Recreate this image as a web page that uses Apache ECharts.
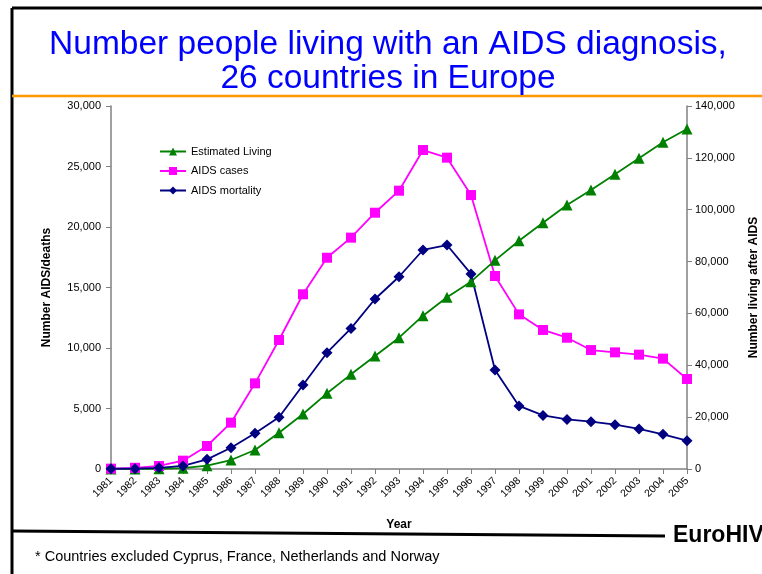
<!DOCTYPE html>
<html>
<head>
<meta charset="utf-8">
<script src="https://cdn.jsdelivr.net/npm/echarts@6/dist/echarts.min.js"></script>
<style>html,body{margin:0;padding:0;background:#fff;}#c{width:762px;height:574px;}</style>
</head>
<body>
<div id="c"></div>
<script>
var years = ['1981','1982','1983','1984','1985','1986','1987','1988','1989','1990','1991','1992','1993','1994','1995','1996','1997','1998','1999','2000','2001','2002','2003','2004','2005'];
var estimatedLiving = [10,30,100,300,1290,3470,7330,14010,21210,29190,36510,43580,50650,59130,66210,72240,80480,88050,95000,101800,107600,113660,119830,126000,131100];
var aidsCases = [30,100,250,690,1900,3830,7080,10660,14440,17460,19120,21180,23000,26360,25730,22640,15950,12780,11490,10850,9830,9640,9450,9120,7440];
var aidsMortality = [20,30,100,250,800,1760,2950,4270,6940,9610,11620,14050,15890,18100,18510,16120,8180,5210,4430,4100,3910,3660,3310,2870,2340];
var leftTicks = {min:0, max:30000, interval:5000};
var rightTicks = {min:0, max:140000, interval:20000};

var FONT = 'Liberation Sans, Arial, sans-serif';
var chart = echarts.init(document.getElementById('c'));
function fmt(v){ return v.toLocaleString('en-US'); }
chart.setOption({
  animation: false,
  textStyle: {fontFamily: FONT},
  grid: {left: 111, right: 75, top: 106, bottom: 105, containLabel: false, outerBoundsMode: 'none'},
  legend: {
    orient: 'vertical', left: 154, top: 141, itemWidth: 26, itemHeight: 10, itemGap: 8.5,
    textStyle: {fontSize: 11, color: '#000', fontFamily: FONT},
    data: ['Estimated Living','AIDS cases','AIDS mortality']
  },
  xAxis: {
    type: 'category', data: years, boundaryGap: false,
    name: 'Year', nameLocation: 'middle', nameGap: 50,
    nameTextStyle: {fontWeight: 'bold', fontSize: 12, color: '#000'},
    axisLine: {lineStyle: {color: '#808080', width: 1.5}},
    axisTick: {alignWithLabel: true, length: 5, lineStyle: {color: '#808080'}},
    axisLabel: {rotate: 45, fontSize: 10.5, color: '#000', margin: 10, interval: 0}
  },
  yAxis: [
    {
      type: 'value', min: leftTicks.min, max: leftTicks.max, interval: leftTicks.interval,
      name: 'Number AIDS/deaths', nameLocation: 'middle', nameGap: 58, nameRotate: 90,
      nameTextStyle: {fontWeight: 'bold', fontSize: 12, color: '#000'},
      axisLine: {show: true, lineStyle: {color: '#808080', width: 1.5}},
      axisTick: {show: true, length: 5, lineStyle: {color: '#808080'}},
      axisLabel: {fontSize: 11, color: '#000', margin: 10, formatter: fmt},
      splitLine: {show: false}
    },
    {
      type: 'value', position: 'right', min: rightTicks.min, max: rightTicks.max, interval: rightTicks.interval,
      name: 'Number living after AIDS', nameLocation: 'middle', nameGap: 61, nameRotate: 90,
      nameTextStyle: {fontWeight: 'bold', fontSize: 12, color: '#000'},
      axisLine: {show: true, lineStyle: {color: '#808080', width: 1.5}},
      axisTick: {show: true, length: 5, lineStyle: {color: '#808080'}},
      axisLabel: {fontSize: 11, color: '#000', margin: 8, formatter: fmt},
      splitLine: {show: false}
    }
  ],
  series: [
    {name: 'Estimated Living', type: 'line', yAxisIndex: 1, data: estimatedLiving,
     symbol: 'triangle', symbolSize: 11, color: '#008000', lineStyle: {width: 1.8, color: '#008000'},
     itemStyle: {color: '#008000'}},
    {name: 'AIDS cases', type: 'line', yAxisIndex: 0, data: aidsCases,
     symbol: 'rect', symbolSize: 10, color: '#FF00FF', lineStyle: {width: 1.8, color: '#FF00FF'},
     itemStyle: {color: '#FF00FF'}},
    {name: 'AIDS mortality', type: 'line', yAxisIndex: 0, data: aidsMortality,
     symbol: 'diamond', symbolSize: 11, color: '#000080', lineStyle: {width: 1.8, color: '#000080'},
     itemStyle: {color: '#000080'}}
  ],
  graphic: [
    {type: 'line', shape: {x1: 12, y1: 8, x2: 762, y2: 8}, style: {stroke: '#000', lineWidth: 3}},
    {type: 'line', shape: {x1: 12, y1: 8, x2: 12, y2: 574}, style: {stroke: '#000', lineWidth: 3}},
    {type: 'line', shape: {x1: 12, y1: 96, x2: 762, y2: 96}, style: {stroke: '#FF9900', lineWidth: 2.5}},
    {type: 'line', shape: {x1: 12, y1: 531, x2: 665, y2: 536}, style: {stroke: '#000', lineWidth: 3}},
    {type: 'text', x: 388, y: 45, style: {text: 'Number people living with an AIDS diagnosis,', fill: '#0000FF', font: '33.5px ' + FONT, textAlign: 'center', textVerticalAlign: 'middle'}},
    {type: 'text', x: 388, y: 79, style: {text: '26 countries in Europe', fill: '#0000FF', font: '33.5px ' + FONT, textAlign: 'center', textVerticalAlign: 'middle'}},
    {type: 'text', x: 673, y: 536, style: {text: 'EuroHIV', fill: '#000', font: 'bold 23px ' + FONT, textAlign: 'left', textVerticalAlign: 'middle'}},
    {type: 'text', x: 35, y: 557, style: {text: '* Countries excluded Cyprus, France, Netherlands and Norway', fill: '#000', font: '14.5px ' + FONT, textAlign: 'left', textVerticalAlign: 'middle'}}
  ]
});
</script>
</body>
</html>
